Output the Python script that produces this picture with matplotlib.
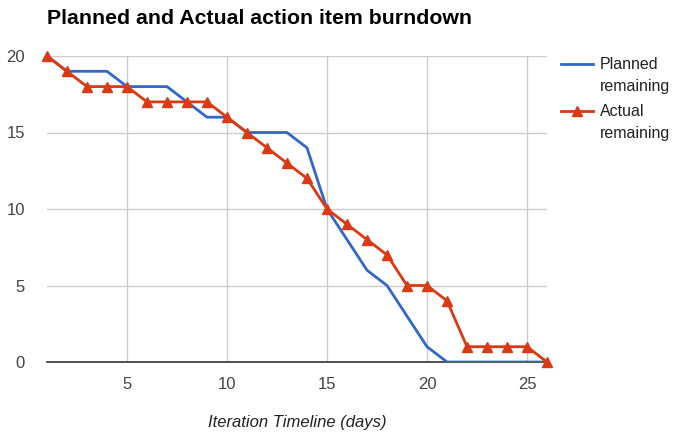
import matplotlib
matplotlib.use("Agg")
import matplotlib.pyplot as plt
from matplotlib.legend_handler import HandlerLine2D

days = list(range(1, 27))
planned = [20, 19, 19, 19, 18, 18, 18, 17, 16, 16, 15, 15, 15, 14, 10, 8, 6, 5, 3, 1, 0, 0, 0, 0, 0, 0]
actual = [20, 19, 18, 18, 18, 17, 17, 17, 17, 16, 15, 14, 13, 12, 10, 9, 8, 7, 5, 5, 4, 1, 1, 1, 1, 0]
xticks = [5, 10, 15, 20, 25]
yticks = [0, 5, 10, 15, 20]

plt.rcParams['font.family'] = ['Liberation Sans', 'DejaVu Sans']

fig = plt.figure(figsize=(6.86, 4.33), dpi=100)
ax = fig.add_axes([47/686, 1-362/433, 500/686, 306/433])

ax.plot(days, planned, color='#3366CC', lw=2, label='Planned\nremaining', zorder=3)
ax.plot(days, actual, color='#DC3912', lw=2, marker='^', markersize=7,
        label='Actual\nremaining', zorder=4, clip_on=False)

ax.set_xlim(1, 26)
ax.set_ylim(0, 20)
ax.set_xticks(xticks)
ax.set_yticks(yticks)
ax.grid(True, color='#cccccc', lw=1)
ax.set_axisbelow(True)
for s in ['top', 'right', 'left']:
    ax.spines[s].set_visible(False)
ax.spines['bottom'].set_color('#333333')
ax.spines['bottom'].set_linewidth(1.2)
ax.tick_params(length=0, labelsize=12, colors='#444444', pad=11)
ax.tick_params(axis='y', pad=16)

fig.text(297/686, 1-423/433, 'Iteration Timeline (days)', fontsize=12, style='italic',
         color='#222222', ha='center', va='center')
fig.text(47/686, 1-18/433, 'Planned and Actual action item burndown', fontsize=15.3,
         fontweight='bold', ha='left', va='center', color='#000000')


class TopHandler(HandlerLine2D):
    shift = 8.5

    def create_artists(self, legend, orig_handle, xdescent, ydescent, width, height, fontsize, trans):
        return super().create_artists(legend, orig_handle, xdescent, ydescent - 2 * self.shift,
                                      width, height, fontsize, trans)


leg = ax.legend(loc='upper left', bbox_to_anchor=(561/686, 1-57/433), bbox_transform=fig.transFigure,
                frameon=False, fontsize=11.5, handlelength=2.0, labelspacing=0.6, handletextpad=0.45,
                borderpad=0, borderaxespad=0, labelcolor='#222222',
                handler_map={l: TopHandler() for l in ax.get_lines()})
for t in leg.get_texts():
    t.set_linespacing(1.6)

fig.savefig('out.png', dpi=100)
